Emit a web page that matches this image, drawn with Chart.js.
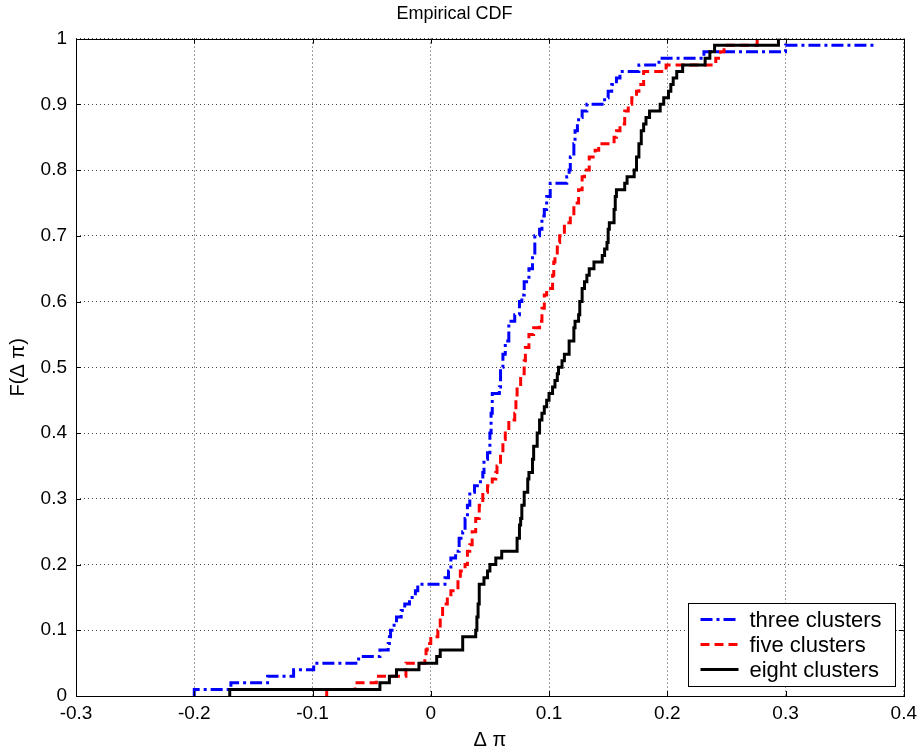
<!DOCTYPE html>
<html>
<head>
<meta charset="utf-8">
<title>Empirical CDF</title>
<script src="https://cdn.jsdelivr.net/npm/chart.js@4.4.1/dist/chart.umd.min.js"></script>
<style>
  html, body { margin: 0; padding: 0; background: #fff; }
</style>
</head>
<body>
<canvas id="cdfChart" width="923" height="753"></canvas>
<script>
// tick values
var xTicks = [-0.3, -0.2, -0.1, 0, 0.1, 0.2, 0.3, 0.4];
var yTicks = [0, 0.1, 0.2, 0.3, 0.4, 0.5, 0.6, 0.7, 0.8, 0.9, 1];

var seriesNames = ['three clusters', 'five clusters', 'eight clusters'];

// step positions (x) and cdf value after each step (F)
var threeX = [-0.2, -0.2, -0.169, -0.138, -0.116, -0.099, -0.061, -0.043, -0.036, -0.035, -0.034, -0.031, -0.029, -0.025, -0.022, -0.018, -0.013, -0.011, 0.012, 0.015, 0.017, 0.021, 0.024, 0.027, 0.029, 0.031, 0.033, 0.037, 0.042, 0.044, 0.045, 0.048, 0.050, 0.051, 0.052, 0.058, 0.059, 0.061, 0.063, 0.066, 0.071, 0.075, 0.077, 0.079, 0.083, 0.086, 0.088, 0.092, 0.094, 0.096, 0.098, 0.101, 0.115, 0.117, 0.118, 0.121, 0.122, 0.124, 0.125, 0.128, 0.132, 0.147, 0.150, 0.153, 0.157, 0.160, 0.176, 0.193, 0.231, 0.300, 0.376];
var threeF = [0, 0.01, 0.02, 0.03, 0.04, 0.05, 0.06, 0.07, 0.08, 0.09, 0.10, 0.11, 0.12, 0.13, 0.14, 0.15, 0.16, 0.17, 0.18, 0.19, 0.21, 0.22, 0.24, 0.25, 0.27, 0.29, 0.31, 0.32, 0.33, 0.34, 0.36, 0.37, 0.40, 0.43, 0.46, 0.47, 0.50, 0.52, 0.54, 0.57, 0.58, 0.60, 0.61, 0.63, 0.65, 0.67, 0.70, 0.71, 0.73, 0.74, 0.76, 0.78, 0.79, 0.80, 0.82, 0.84, 0.86, 0.87, 0.88, 0.89, 0.90, 0.91, 0.92, 0.93, 0.94, 0.95, 0.96, 0.97, 0.98, 0.99, 0.99];

var fiveX = [-0.088, -0.088, -0.064, -0.046, -0.021, -0.005, -0.004, -0.003, 0.000, 0.006, 0.008, 0.010, 0.014, 0.017, 0.023, 0.025, 0.029, 0.031, 0.033, 0.035, 0.038, 0.041, 0.044, 0.048, 0.052, 0.055, 0.056, 0.059, 0.061, 0.063, 0.066, 0.071, 0.072, 0.073, 0.076, 0.079, 0.080, 0.083, 0.087, 0.092, 0.094, 0.096, 0.098, 0.103, 0.104, 0.105, 0.107, 0.109, 0.113, 0.118, 0.121, 0.125, 0.128, 0.130, 0.134, 0.139, 0.142, 0.155, 0.157, 0.160, 0.164, 0.167, 0.170, 0.174, 0.176, 0.180, 0.199, 0.241, 0.245, 0.248, 0.276];
var fiveF = [0, 0.01, 0.02, 0.03, 0.05, 0.06, 0.07, 0.08, 0.09, 0.10, 0.12, 0.14, 0.15, 0.16, 0.18, 0.19, 0.20, 0.22, 0.23, 0.25, 0.27, 0.29, 0.31, 0.32, 0.33, 0.34, 0.35, 0.37, 0.39, 0.40, 0.42, 0.43, 0.45, 0.47, 0.49, 0.51, 0.53, 0.55, 0.56, 0.57, 0.59, 0.61, 0.62, 0.64, 0.66, 0.67, 0.69, 0.70, 0.72, 0.73, 0.75, 0.77, 0.79, 0.80, 0.82, 0.83, 0.84, 0.85, 0.86, 0.87, 0.89, 0.90, 0.91, 0.92, 0.93, 0.95, 0.96, 0.97, 0.98, 0.99, 1.00];

var eightX = [-0.170, -0.170, -0.043, -0.035, -0.029, -0.010, 0.005, 0.008, 0.027, 0.038, 0.039, 0.040, 0.041, 0.045, 0.048, 0.050, 0.055, 0.060, 0.073, 0.075, 0.076, 0.077, 0.079, 0.082, 0.083, 0.086, 0.087, 0.090, 0.092, 0.094, 0.096, 0.098, 0.100, 0.103, 0.105, 0.107, 0.108, 0.111, 0.113, 0.117, 0.121, 0.122, 0.125, 0.126, 0.128, 0.130, 0.132, 0.134, 0.138, 0.145, 0.147, 0.149, 0.150, 0.151, 0.155, 0.156, 0.157, 0.164, 0.166, 0.172, 0.174, 0.176, 0.178, 0.180, 0.182, 0.185, 0.194, 0.197, 0.201, 0.203, 0.205, 0.208, 0.213, 0.232, 0.236, 0.240, 0.294];
var eightF = [0, 0.01, 0.02, 0.03, 0.04, 0.05, 0.06, 0.07, 0.09, 0.10, 0.12, 0.14, 0.17, 0.18, 0.19, 0.20, 0.21, 0.22, 0.24, 0.26, 0.27, 0.29, 0.31, 0.33, 0.34, 0.36, 0.38, 0.40, 0.42, 0.43, 0.44, 0.45, 0.46, 0.47, 0.48, 0.49, 0.50, 0.51, 0.52, 0.54, 0.56, 0.57, 0.58, 0.60, 0.62, 0.63, 0.64, 0.65, 0.66, 0.67, 0.68, 0.69, 0.71, 0.72, 0.74, 0.76, 0.77, 0.78, 0.79, 0.80, 0.82, 0.84, 0.86, 0.87, 0.88, 0.89, 0.90, 0.91, 0.92, 0.93, 0.94, 0.95, 0.96, 0.97, 0.98, 0.99, 1.00];

var FONT = '"Liberation Sans", Arial, Helvetica, sans-serif';

function toPoints(xs, fs) {
  return xs.map(function(x, i) { return { x: x, y: fs[i] }; });
}

// box around the axes + small inward ticks on all four sides (matlab style)
var frameTicks = {
  id: 'frameTicks',
  afterDatasetsDraw: function(chart) {
    var ctx = chart.ctx, a = chart.chartArea;
    var sx = chart.scales.x, sy = chart.scales.y;
    var len = 5;
    ctx.save();
    ctx.strokeStyle = '#000';
    ctx.lineWidth = 1;
    ctx.beginPath();
    xTicks.forEach(function(v) {
      var px = Math.round(sx.getPixelForValue(v)) + 0.5;
      ctx.moveTo(px, a.bottom); ctx.lineTo(px, a.bottom - len);
      ctx.moveTo(px, a.top); ctx.lineTo(px, a.top + len);
    });
    yTicks.forEach(function(v) {
      var py = Math.round(sy.getPixelForValue(v)) + 0.5;
      ctx.moveTo(a.left, py); ctx.lineTo(a.left + len, py);
      ctx.moveTo(a.right, py); ctx.lineTo(a.right - len, py);
    });
    ctx.stroke();
    ctx.strokeRect(Math.round(a.left) + 0.5, Math.round(a.top) + 0.5,
                   Math.round(a.right - a.left), Math.round(a.bottom - a.top));
    ctx.restore();
  }
};

// legend box in the lower right corner of the plot
var cornerLegend = {
  id: 'cornerLegend',
  afterDraw: function(chart) {
    var ctx = chart.ctx, a = chart.chartArea;
    var w = 207, h = 83;
    var x0 = Math.round(a.right - 9 - w) + 0.5;
    var y0 = Math.round(a.bottom - 10 - h) + 0.5;
    ctx.save();
    ctx.fillStyle = '#fff';
    ctx.fillRect(x0, y0, w, h);
    ctx.strokeStyle = '#000';
    ctx.lineWidth = 1;
    ctx.setLineDash([]);
    ctx.strokeRect(x0, y0, w, h);
    ctx.font = '22px ' + FONT;
    ctx.textBaseline = 'middle';
    ctx.fillStyle = '#000';
    chart.data.datasets.forEach(function(ds, i) {
      var yy = y0 + 16 + i * 25;
      ctx.beginPath();
      ctx.strokeStyle = ds.borderColor;
      ctx.lineWidth = ds.borderWidth;
      ctx.setLineDash(ds.borderDash || []);
      ctx.moveTo(x0 + 12, yy);
      ctx.lineTo(x0 + 50, yy);
      ctx.stroke();
      ctx.setLineDash([]);
      ctx.fillText(ds.label, x0 + 61, yy + 1);
    });
    ctx.restore();
  }
};

function plainLabel(value) {
  return String(Math.round(value * 10) / 10);
}

var ctx = document.getElementById('cdfChart').getContext('2d');
var chart = new Chart(ctx, {
  type: 'line',
  data: {
    datasets: [{
      label: seriesNames[0],
      data: toPoints(threeX, threeF),
      borderColor: '#0000ff',
      borderWidth: 3,
      borderDash: [12, 4, 3, 4],
      order: 3
    }, {
      label: seriesNames[1],
      data: toPoints(fiveX, fiveF),
      borderColor: '#ff0000',
      borderWidth: 3,
      borderDash: [9, 5],
      order: 2
    }, {
      label: seriesNames[2],
      data: toPoints(eightX, eightF),
      borderColor: '#000000',
      borderWidth: 3,
      order: 1
    }]
  },
  options: {
    responsive: false,
    animation: false,
    devicePixelRatio: 1,
    layout: { padding: { left: 0, right: 14, top: 0, bottom: 0 } },
    elements: {
      point: { radius: 0 },
      line: { stepped: 'before', tension: 0, borderCapStyle: 'butt', borderJoinStyle: 'miter' }
    },
    scales: {
      x: {
        type: 'linear',
        min: -0.3,
        max: 0.4,
        afterBuildTicks: function(scale) {
          scale.ticks = xTicks.map(function(v) { return { value: v }; });
        },
        afterFit: function(scale) { scale.height = 57; },
        ticks: { color: '#000', font: { family: FONT, size: 19 }, padding: 6, maxRotation: 0, autoSkip: false, callback: plainLabel },
        grid: { color: '#444', lineWidth: 1, drawTicks: false },
        border: { display: false, dash: [1, 3] },
        title: {
          display: true,
          text: 'Δ π',
          color: '#000',
          font: { family: FONT, size: 20 },
          padding: { top: 0, bottom: 1 }
        }
      },
      y: {
        type: 'linear',
        min: 0,
        max: 1,
        afterBuildTicks: function(scale) {
          scale.ticks = yTicks.map(function(v) { return { value: v }; });
        },
        afterFit: function(scale) { scale.width = 76; },
        ticks: { color: '#000', font: { family: FONT, size: 19 }, padding: 9, autoSkip: false, callback: plainLabel },
        grid: { color: '#444', lineWidth: 1, drawTicks: false },
        border: { display: false, dash: [1, 3] },
        title: {
          display: true,
          text: 'F(Δ π)',
          color: '#000',
          font: { family: FONT, size: 20 },
          padding: { top: 6, bottom: 0 }
        }
      }
    },
    plugins: {
      legend: { display: false },
      tooltip: { enabled: false },
      title: {
        display: true,
        text: 'Empirical CDF',
        color: '#000',
        font: { family: FONT, size: 18, weight: 'normal' },
        padding: { top: 3, bottom: 14 }
      }
    }
  },
  plugins: [frameTicks, cornerLegend]
});
</script>
</body>
</html>
